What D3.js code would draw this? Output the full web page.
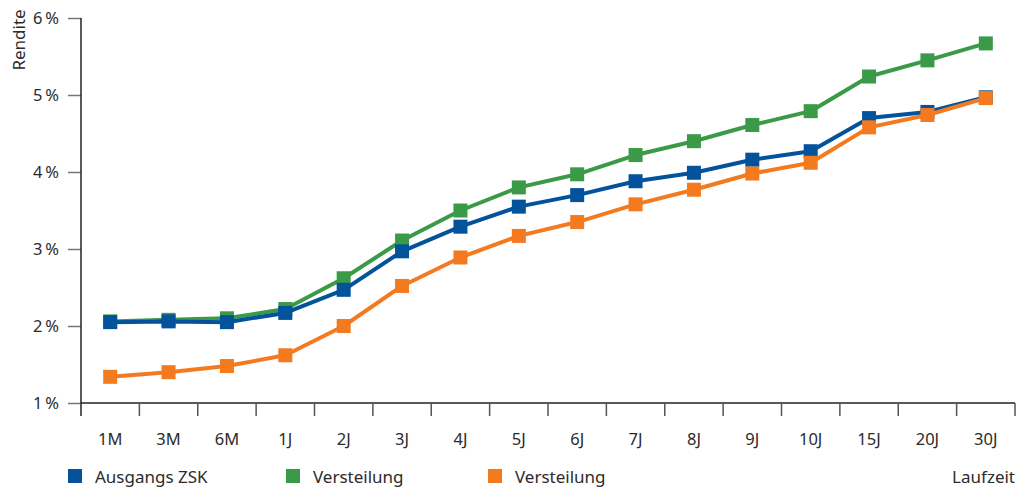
<!DOCTYPE html>
<html>
<head>
<meta charset="utf-8">
<script src="https://cdn.jsdelivr.net/npm/d3@7/dist/d3.min.js"></script>
<style>
  body { margin: 0; background: #fff; }
  svg text { font-family: "Noto Sans", "Open Sans", sans-serif; fill: #2b2b2b; }
</style>
</head>
<body>
<svg id="chart" width="1021" height="488"></svg>
<script>
// Maturities (Laufzeit) and yields in percent
const maturities = ["1M","3M","6M","1J","2J","3J","4J","5J","6J","7J","8J","9J","10J","15J","20J","30J"];
const ausgangsZSK = [2.05,2.06,2.05,2.17,2.47,2.97,3.29,3.55,3.70,3.88,3.99,4.16,4.27,4.70,4.78,4.97];
const versteilungGruen = [2.06,2.08,2.10,2.22,2.62,3.11,3.50,3.80,3.97,4.22,4.40,4.61,4.79,5.24,5.45,5.67];
const versteilungOrange = [1.34,1.40,1.48,1.62,2.00,2.52,2.89,3.17,3.35,3.58,3.77,3.98,4.12,4.58,4.74,4.96];
const yTicks = [1,2,3,4,5,6];

const series = [
  { name: "Versteilung", values: versteilungGruen, color: "#3a9a47" },
  { name: "Ausgangs ZSK", values: ausgangsZSK, color: "#02529c" },
  { name: "Versteilung", values: versteilungOrange, color: "#f47a20" }
];
const legendOrder = [series[1], series[0], series[2]];

const svg = d3.select("#chart");
const plotLeft = 81, plotRight = 1015, plotTop = 18, plotBottom = 403;

const x = d3.scaleBand().domain(maturities).range([plotLeft, plotRight]);
const y = d3.scaleLinear().domain([1, 6]).range([plotBottom, plotTop]);

// Y axis
const yAxis = svg.append("g").attr("transform", `translate(${plotLeft},0)`)
  .call(d3.axisLeft(y).tickValues(yTicks).tickSize(13).tickPadding(9)
    .tickFormat(d => d + "\u2009%"));
yAxis.select(".domain").remove();
yAxis.selectAll(".tick line").attr("stroke", "#777").attr("stroke-width", 1.5);
yAxis.selectAll(".tick text").attr("font-size", 16.5).style("font-family", "'Noto Sans', sans-serif").attr("fill", "#2b2b2b");
svg.append("line").attr("x1", plotLeft).attr("x2", plotLeft).attr("y1", plotTop).attr("y2", plotBottom + 13)
  .attr("stroke", "#222").attr("stroke-width", 1.5);

// X axis with ticks on band boundaries
const xAxisG = svg.append("g").attr("transform", `translate(0,${plotBottom})`);
xAxisG.append("line").attr("x1", plotLeft).attr("x2", plotRight).attr("stroke", "#222").attr("stroke-width", 1.5);
const boundaries = maturities.slice(1).map(d => x(d)).concat([plotRight]);
xAxisG.selectAll("line.bt").data(boundaries)
  .join("line").attr("class", "bt")
  .attr("x1", d => d).attr("x2", d => d)
  .attr("y1", 0).attr("y2", 13).attr("stroke", "#555").attr("stroke-width", 1.5);
xAxisG.selectAll("text").data(maturities).join("text")
  .attr("x", d => x(d) + x.bandwidth() / 2)
  .attr("y", 42).attr("text-anchor", "middle").attr("font-size", 16.5).text(d => d);

// Axis titles
svg.append("text").attr("transform", "translate(25,40) rotate(-90)")
  .attr("text-anchor", "middle").attr("font-size", 17).text("Rendite");
svg.append("text").attr("x", plotRight).attr("y", 483).attr("text-anchor", "end")
  .attr("font-size", 17).text("Laufzeit");

// Lines and square markers
const line = d3.line().x((d, i) => x(maturities[i]) + x.bandwidth() / 2).y(d => y(d));
const sq = 14;
series.forEach(s => {
  const g = svg.append("g");
  g.append("path").datum(s.values).attr("d", line)
    .attr("fill", "none").attr("stroke", s.color).attr("stroke-width", 4).attr("stroke-linejoin", "round");
  g.selectAll("rect").data(s.values).join("rect")
    .attr("x", (d, i) => x(maturities[i]) + x.bandwidth() / 2 - sq / 2)
    .attr("y", d => y(d) - sq / 2)
    .attr("width", sq).attr("height", sq).attr("fill", s.color);
});

// Legend
const legendX = [68, 286, 488];
const lg = svg.selectAll("g.legend").data(legendOrder).join("g").attr("class", "legend")
  .attr("transform", (d, i) => `translate(${legendX[i]},469)`);
lg.append("rect").attr("width", 14).attr("height", 14).attr("fill", d => d.color);
lg.append("text").attr("x", 27).attr("y", 14).attr("font-size", 17).text(d => d.name);
</script>
</body>
</html>
